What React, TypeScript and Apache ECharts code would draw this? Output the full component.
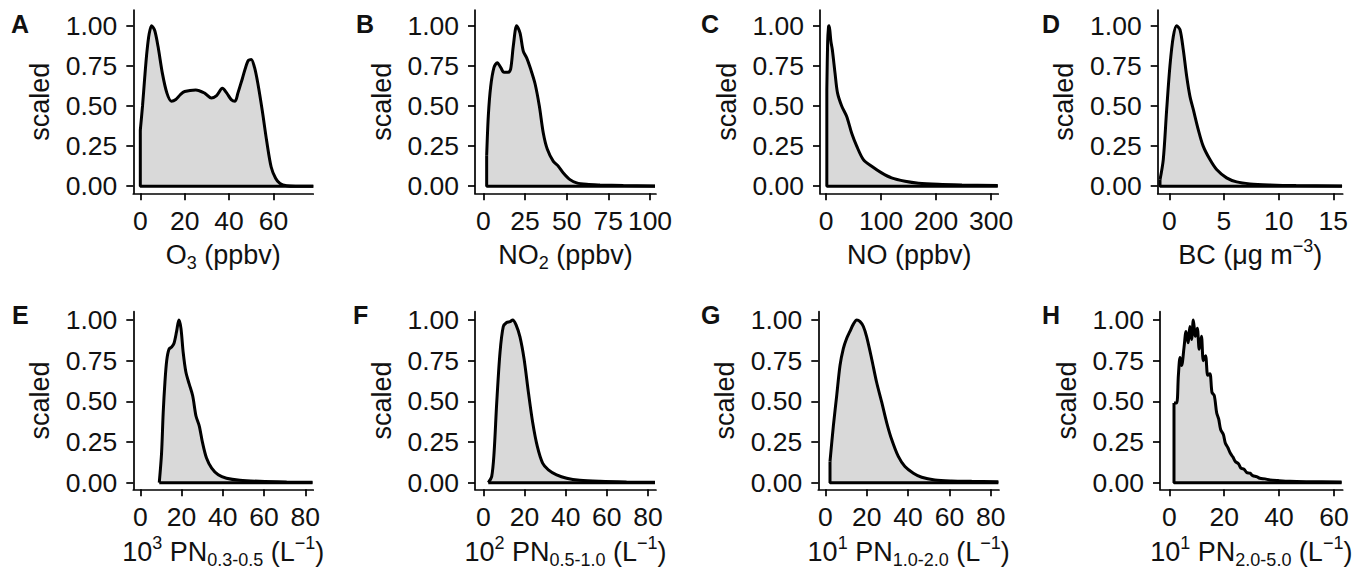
import React, { useEffect, useRef } from "react";
import * as echarts from "echarts";

// ---------- data ----------
const O3_X = [0, 1, 2, 3, 4, 5.1, 6.5, 8, 10, 12, 14, 16, 18, 20, 25, 29, 32, 34.4, 37, 39, 41, 42.7, 44, 46, 48.5, 50, 51.5, 53, 55, 57, 59, 61, 63, 66, 70, 78];
const O3_Y = [0.35, 0.5, 0.68, 0.84, 0.95, 1.0, 0.97, 0.87, 0.7, 0.58, 0.53, 0.54, 0.57, 0.59, 0.6, 0.58, 0.55, 0.565, 0.61, 0.58, 0.54, 0.53, 0.58, 0.67, 0.78, 0.79, 0.74, 0.64, 0.47, 0.28, 0.12, 0.05, 0.017, 0.003, 0.0, 0.0];

const NO2_X = [2, 3, 4.4, 6.4, 8.4, 10.4, 12.4, 15, 16.4, 18, 20, 22, 24, 26, 28.4, 31, 33.6, 36, 38.4, 42, 45, 48, 52, 56, 62, 70, 84, 103];
const NO2_Y = [0.19, 0.44, 0.62, 0.74, 0.77, 0.74, 0.71, 0.71, 0.73, 0.875, 1.0, 0.955, 0.84, 0.8, 0.73, 0.64, 0.5, 0.33, 0.23, 0.155, 0.125, 0.083, 0.041, 0.021, 0.012, 0.008, 0.004, 0.002];

const NO_X = [1.5, 3, 4.5, 5.5, 7, 9, 11.5, 16.4, 21, 28.5, 37.6, 46.7, 55.8, 67.9, 83, 101, 119, 143.6, 168, 204, 247, 312];
const NO_Y = [0.6, 0.9, 0.99, 1.0, 0.97, 0.9, 0.85, 0.705, 0.58, 0.5, 0.435, 0.33, 0.25, 0.166, 0.124, 0.083, 0.052, 0.031, 0.019, 0.012, 0.008, 0.004];

const BC_X = [-0.85, -0.55, -0.24, 0.06, 0.37, 0.67, 0.98, 1.28, 1.59, 1.89, 2.2, 2.65, 3.1, 3.72, 4.33, 5.24, 6.16, 7.38, 9.2, 11.6, 15.8];
const BC_Y = [0.04, 0.166, 0.477, 0.75, 0.934, 1.0, 0.975, 0.85, 0.685, 0.56, 0.477, 0.353, 0.25, 0.166, 0.104, 0.052, 0.027, 0.0145, 0.008, 0.004, 0.002];

const PN03_X = [9.2, 10.3, 11.1, 11.95, 12.8, 13.9, 15.2, 16.3, 17.6, 18.7, 19.7, 20.8, 22.1, 23.7, 25.4, 27, 28.6, 30.2, 32.1, 34.6, 37.8, 41.8, 48.3, 58, 71, 83.5];
const PN03_Y = [0, 0.18, 0.43, 0.62, 0.75, 0.82, 0.834, 0.855, 0.93, 1.0, 0.95, 0.8, 0.68, 0.607, 0.534, 0.41, 0.348, 0.244, 0.151, 0.089, 0.048, 0.027, 0.0145, 0.008, 0.004, 0.002];

const PN05_X = [2.4, 4.05, 5.2, 6.5, 8.1, 9.7, 11.3, 13, 14.25, 15.9, 17.8, 19.8, 21.9, 24, 26.2, 28.8, 31.6, 35.6, 40.5, 46.9, 56.7, 69.6, 83.4];
const PN05_Y = [0, 0.037, 0.18, 0.49, 0.8, 0.96, 0.985, 0.99, 1.0, 0.97, 0.896, 0.76, 0.555, 0.368, 0.224, 0.12, 0.079, 0.048, 0.027, 0.0145, 0.008, 0.004, 0.002];

const PN10_X = [2.26, 3.9, 5.5, 7.1, 8.7, 10.3, 11.9, 13.5, 15.2, 16.8, 18.4, 20, 22.4, 24.8, 27.3, 29.7, 32.1, 35.3, 38.5, 42.6, 46.6, 53, 61, 70.8, 83.7];
const PN10_Y = [0.13, 0.35, 0.535, 0.72, 0.824, 0.886, 0.93, 0.973, 1.0, 0.99, 0.96, 0.896, 0.762, 0.617, 0.493, 0.368, 0.265, 0.161, 0.099, 0.058, 0.033, 0.0166, 0.0104, 0.008, 0.006];

const PN20_X = [1.7, 2.67, 3.3, 3.9, 4.5, 5.35, 6.1, 6.8, 7.5, 8.1, 8.75, 9.5, 10.2, 10.9, 11.7, 12.4, 13.2, 14.0, 14.8, 15.55, 16.4, 17.25, 18.0, 18.7, 19.7, 20.4, 21.4, 22.2, 23.2, 24.05, 25.2, 26.1, 27.2, 28.2, 29.4, 30.4, 31.8, 33.0, 34.9, 36.7, 39.7, 44.0, 50.0, 62.8];
const PN20_Y = [0.49, 0.49, 0.66, 0.77, 0.72, 0.83, 0.93, 0.86, 0.96, 0.88, 1.0, 0.9, 0.95, 0.82, 0.9, 0.75, 0.78, 0.66, 0.67, 0.555, 0.534, 0.43, 0.39, 0.327, 0.296, 0.244, 0.213, 0.182, 0.157, 0.13, 0.116, 0.089, 0.083, 0.062, 0.058, 0.043, 0.037, 0.027, 0.023, 0.0166, 0.0124, 0.008, 0.006, 0.004];

const LETTERS = ["A", "B", "C", "D", "E", "F", "G", "H"];
const Y_TICKS = [0, 0.25, 0.5, 0.75, 1];
const X_TICKS = [
  [0, 20, 40, 60],
  [0, 25, 50, 75, 100],
  [0, 100, 200, 300],
  [0, 5, 10, 15],
  [0, 20, 40, 60, 80],
  [0, 20, 40, 60, 80],
  [0, 20, 40, 60, 80],
  [0, 20, 40, 60],
];
const X_TITLES = [
  "{n|O}{sub|3}{n| (ppbv)}",
  "{n|NO}{sub|2}{n| (ppbv)}",
  "{n|NO (ppbv)}",
  "{n|BC (μg m}{sup|−3}{n|)}",
  "{n|10}{sup|3}{n| PN}{sub|0.3-0.5}{n| (L}{sup|−1}{n|)}",
  "{n|10}{sup|2}{n| PN}{sub|0.5-1.0}{n| (L}{sup|−1}{n|)}",
  "{n|10}{sup|1}{n| PN}{sub|1.0-2.0}{n| (L}{sup|−1}{n|)}",
  "{n|10}{sup|1}{n| PN}{sub|2.0-5.0}{n| (L}{sup|−1}{n|)}",
];
const Y_TITLE = "scaled";
const X_MIN = [-3.16, -5, -10.9, -1.06, -3.4, -4.05, -3.4, -3.4];
const X_MAX = [78, 103.6, 313, 15.86, 83.9, 83.9, 84, 63.2];

const SERIES_X = [O3_X, NO2_X, NO_X, BC_X, PN03_X, PN05_X, PN10_X, PN20_X];
const SERIES_Y = [O3_Y, NO2_Y, NO_Y, BC_Y, PN03_Y, PN05_Y, PN10_Y, PN20_Y];

// ---------- layout ----------
const GRID_L = [133.3, 475, 820, 1157.7, 133.3, 475, 818.3, 1160];
const GRID_R = [313.3, 656, 998.3, 1342.7, 313.3, 656, 999, 1342.7];
const ROW_TOP = [10, 311.7];
const ROW_BOTTOM = [193.3, 489.3];
const ROW_YMIN = [-0.044, -0.041];
const ROW_YMAX = [1.098, 1.051];
const LETTER_POS = [
  [11, 11], [356, 11], [701, 11], [1042, 11],
  [12, 302], [353, 302], [701, 302], [1042, 302],
];
const FONT = "'Liberation Sans', Arial, Helvetica, sans-serif";
const TXT = "#111";
const TICK_FS = 26.5;
const TITLE_FS = 27;

function buildOption() {
  const grid: any[] = [];
  const xAxis: any[] = [];
  const yAxis: any[] = [];
  const series: any[] = [];
  const graphic: any[] = [];
  for (let i = 0; i < 8; i++) {
    const row = i < 4 ? 0 : 1;
    grid.push({
      left: GRID_L[i],
      top: ROW_TOP[row],
      width: GRID_R[i] - GRID_L[i],
      height: ROW_BOTTOM[row] - ROW_TOP[row],
      containLabel: false,
      outerBoundsMode: "none",
    });
    const axisLine = { show: true, onZero: false, lineStyle: { color: "#000", width: 1.7 } };
    xAxis.push({
      type: "value",
      gridIndex: i,
      min: X_MIN[i],
      max: X_MAX[i],
      axisLine,
      axisTick: { show: true, length: 7, customValues: X_TICKS[i], lineStyle: { color: "#000", width: 1.7 } },
      axisLabel: {
        customValues: X_TICKS[i],
        fontSize: TICK_FS,
        fontFamily: FONT,
        color: TXT,
        margin: 14,
      },
      splitLine: { show: false },
      name: X_TITLES[i],
      nameLocation: "middle",
      nameGap: row === 0 ? 43 : 44,
      nameTextStyle: {
        color: TXT,
        fontFamily: FONT,
        fontSize: TITLE_FS,
        rich: {
          n: { fontSize: TITLE_FS, fontFamily: FONT, color: TXT, lineHeight: 38 },
          sub: { fontSize: 18, fontFamily: FONT, color: TXT, padding: [15, 0, 0, 0] },
          sup: { fontSize: 18, fontFamily: FONT, color: TXT, padding: [0, 0, 18, 0] },
        },
      },
    });
    yAxis.push({
      type: "value",
      gridIndex: i,
      min: ROW_YMIN[row],
      max: ROW_YMAX[row],
      axisLine,
      axisTick: { show: true, length: 7, customValues: Y_TICKS, lineStyle: { color: "#000", width: 1.7 } },
      axisLabel: {
        customValues: Y_TICKS,
        formatter: (v: number) => v.toFixed(2),
        fontSize: TICK_FS,
        fontFamily: FONT,
        color: TXT,
        margin: 16,
      },
      splitLine: { show: false },
      name: Y_TITLE,
      nameLocation: "middle",
      nameGap: 80,
      nameTextStyle: { color: TXT, fontFamily: FONT, fontSize: TITLE_FS },
    });
    const xs = SERIES_X[i];
    const ys = SERIES_Y[i];
    const pts = xs.map((x, k) => [x, ys[k]]);
    series.push({
      type: "line",
      xAxisIndex: i,
      yAxisIndex: i,
      data: pts,
      smooth: 0.3,
      showSymbol: false,
      lineStyle: { color: "#000", width: 3 },
      areaStyle: { color: "#d9d9d9", opacity: 1 },
      z: 2,
      silent: true,
    });
    const n = xs.length - 1;
    series.push({
      type: "line",
      xAxisIndex: i,
      yAxisIndex: i,
      data: [[xs[0], ys[0]], [xs[0], 0], [xs[n], 0]],
      showSymbol: false,
      lineStyle: { color: "#000", width: 3 },
      z: 3,
      silent: true,
    });
    graphic.push({
      type: "text",
      left: LETTER_POS[i][0],
      top: LETTER_POS[i][1],
      style: {
        text: LETTERS[i],
        fill: "#111",
        font: `bold 25px ${FONT}`,
      },
    });
  }
  return {
    animation: false,
    backgroundColor: "#fff",
    grid,
    xAxis,
    yAxis,
    series,
    graphic,
  };
}

export default function App() {
  const ref = useRef<HTMLDivElement>(null);
  useEffect(() => {
    if (!ref.current) return;
    const chart = echarts.init(ref.current, undefined, { renderer: "svg" });
    chart.setOption(buildOption() as any);
    return () => chart.dispose();
  }, []);
  return (
    <div
      ref={ref}
      style={{ position: "absolute", left: 0, top: 0, width: 1371, height: 576, background: "#fff" }}
    />
  );
}
